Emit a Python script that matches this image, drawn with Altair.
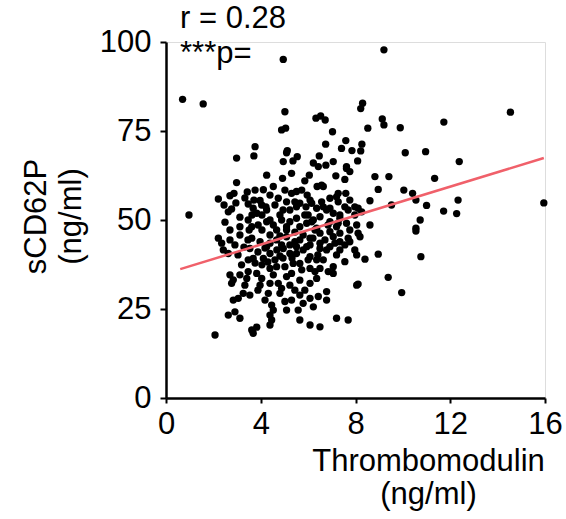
import altair as alt
import pandas as pd

# Thrombomodulin (ng/ml) values
tm = [0.70, 1.57, 4.95, 9.20, 0.97, 2.07, 14.54, 15.95, 12.38, 10.96, 11.34, 10.41, 10.55, 11.00, 11.72, 12.27,
      12.33, 10.73, 10.55, 10.55, 10.76, 8.30, 8.22, 9.13, 9.20, 8.52, 9.89, 11.73, 7.59, 7.41, 7.85, 8.22,
      8.27, 8.09, 7.62, 10.10, 5.02, 6.33, 6.53, 6.72, 4.88, 5.05, 7.03, 3.76, 5.12, 6.74, 3.71, 2.98,
      4.95, 5.36, 5.54, 4.25, 4.92, 5.30, 2.98, 3.43, 3.76, 4.11, 4.53, 2.21, 2.70, 2.87, 3.71, 3.47,
      3.97, 4.22, 4.74, 5.09, 5.30, 2.63, 2.77, 3.12, 3.47, 3.83, 4.25, 3.89, 3.12, 3.51, 4.39, 4.81,
      5.23, 4.67, 2.21, 2.70, 5.09, 5.51, 5.09, 6.47, 6.22, 6.43, 6.75, 7.06, 6.05, 5.86, 7.17, 5.51,
      5.73, 5.96, 6.38, 6.64, 7.27, 7.59, 3.68, 4.04, 5.65, 5.91, 6.15, 6.36, 6.64, 6.92, 7.27, 7.55,
      3.62, 4.25, 4.53, 4.88, 5.23, 5.09, 5.65, 5.94, 6.15, 6.50, 6.36, 6.92, 7.20, 7.34, 7.62, 3.62,
      3.97, 4.39, 4.67, 5.09, 5.44, 5.79, 6.08, 6.50, 7.06, 7.34, 4.25, 4.88, 5.94, 6.92, 8.82, 9.41,
      8.96, 10.04, 9.52, 8.61, 8.61, 7.62, 7.76, 7.55, 7.20, 7.76, 8.11, 8.26, 6.57, 6.92, 6.57, 6.08,
      5.44, 5.51, 6.78, 7.06, 7.34, 7.69, 7.97, 6.00, 6.22, 6.92, 7.27, 8.05, 6.29, 7.76, 8.11, 2.91,
      2.42, 2.63, 3.54, 3.68, 4.11, 4.39, 4.60, 4.95, 5.23, 5.51, 5.79, 6.08, 6.50, 6.78, 7.13, 7.20,
      7.55, 5.65, 6.00, 6.36, 3.19, 3.47, 3.41, 3.83, 4.04, 4.39, 4.67, 4.53, 5.02, 5.30, 5.09, 5.73,
      6.08, 6.50, 6.85, 7.06, 7.06, 2.70, 2.84, 2.77, 6.08, 6.36, 4.39, 4.74, 4.88, 4.81, 4.32, 2.84,
      3.05, 3.26, 3.54, 5.02, 5.30, 5.65, 5.79, 6.08, 6.43, 6.78, 6.78, 4.46, 4.53, 4.39, 5.09, 5.58,
      6.22, 2.91, 2.63, 3.12, 4.46, 4.39, 5.65, 6.08, 6.50, 7.20, 7.69, 3.62, 3.83, 3.68, 2.35, 3.47,
      8.96, 8.05, 8.40, 7.76, 7.69, 8.19, 9.38, 8.05, 8.11, 9.95, 6.64, 6.50, 6.08, 5.51, 5.37, 6.29,
      3.88, 4.18, 4.81, 4.05, 3.76, 4.30, 4.94, 4.68, 5.32, 3.97, 5.23, 5.65, 5.44, 5.86, 4.18, 3.88,
      3.33, 3.12, 3.04, 3.29, 3.33, 3.63, 4.05, 4.60, 4.39, 5.02, 4.94, 4.05, 4.39, 5.23, 5.65, 6.71,
      6.41, 6.84, 5.86, 4.81, 5.44, 6.20, 7.34, 7.97, 7.55, 7.34, 7.97, 3.46, 3.12, 2.70, 2.49, 2.95,
      2.45]

# sCD62P (ng/ml) values
sp = [83.9, 82.6, 95.1, 97.8, 51.4, 17.7, 80.3, 54.8, 66.4, 69.2, 61.7, 57.5, 55.6, 54.1, 52.5, 51.8,
      55.6, 50.0, 47.7, 46.9, 39.7, 82.8, 81.3, 78.4, 76.7, 75.8, 75.9, 77.5, 72.3, 70.1, 69.5, 69.4,
      71.3, 66.6, 65.0, 68.9, 80.4, 78.6, 79.2, 78.1, 75.3, 75.8, 74.8, 70.6, 69.5, 71.3, 68.0, 67.4,
      66.4, 66.6, 67.8, 62.6, 61.7, 63.1, 60.5, 57.9, 58.4, 58.5, 59.4, 55.9, 56.8, 57.5, 55.6, 54.5,
      55.5, 53.7, 56.1, 55.1, 57.5, 52.3, 53.1, 50.8, 50.0, 51.9, 52.8, 48.6, 48.1, 47.2, 50.0, 51.4,
      52.8, 47.2, 44.9, 44.4, 48.1, 50.5, 68.9, 68.0, 66.0, 65.0, 65.4, 66.4, 62.6, 61.0, 62.4, 58.0,
      58.4, 57.0, 59.4, 59.4, 57.5, 57.5, 53.3, 54.2, 54.7, 53.7, 54.7, 53.3, 53.7, 53.3, 55.1, 53.7,
      48.1, 49.5, 48.6, 50.0, 49.5, 47.2, 48.1, 49.1, 49.5, 50.9, 47.7, 49.5, 48.1, 50.5, 49.1, 44.9,
      43.9, 45.8, 44.4, 45.3, 43.9, 45.8, 44.9, 46.3, 45.3, 43.9, 42.5, 43.0, 42.5, 42.5, 62.2, 62.2,
      58.6, 58.4, 54.2, 55.4, 48.6, 64.5, 63.6, 61.4, 56.5, 55.6, 53.3, 52.3, 59.8, 56.1, 55.1, 55.6,
      55.1, 53.7, 52.8, 51.9, 51.4, 52.8, 53.7, 51.4, 50.0, 46.7, 49.1, 48.6, 47.2, 47.2, 46.3, 43.0,
      41.6, 40.6, 42.0, 39.2, 39.2, 40.6, 38.8, 42.0, 40.6, 42.5, 41.6, 43.0, 43.5, 41.6, 43.5, 40.2,
      38.3, 37.8, 38.8, 38.8, 37.4, 35.5, 33.6, 35.0, 33.6, 36.4, 36.9, 34.6, 36.9, 35.0, 34.1, 36.0,
      36.4, 36.4, 35.5, 35.0, 36.9, 34.6, 33.2, 32.2, 32.2, 33.6, 32.2, 32.2, 30.8, 29.4, 29.4, 27.5,
      28.0, 29.4, 28.9, 27.1, 27.5, 28.9, 26.6, 28.0, 28.5, 29.9, 27.5, 26.1, 24.7, 23.3, 24.7, 24.7,
      25.6, 24.2, 23.3, 22.4, 21.9, 20.5, 21.9, 20.5, 20.0, 22.4, 21.9, 19.1, 19.9, 18.2, 43.5, 38.8,
      40.4, 40.2, 39.0, 43.9, 44.9, 45.3, 33.9, 31.7, 32.0, 29.6, 38.8, 42.0, 39.7, 40.6, 37.8, 35.5,
      41.0, 42.1, 39.9, 37.4, 37.9, 38.2, 39.3, 41.6, 39.3, 31.7, 31.7, 33.1, 30.3, 30.3, 27.5, 30.3,
      31.7, 34.6, 40.2, 42.4, 56.2, 51.4, 51.4, 54.2, 57.0, 58.4, 52.8, 47.2, 43.5, 43.0, 44.4, 44.4,
      40.2, 48.6, 51.4, 45.5, 46.6, 44.9, 46.3, 51.4, 43.0, 41.6, 41.6, 44.4, 45.8, 47.2, 49.4, 54.8,
      54.2]

# fitted line end points
fit_x = [0.6, 15.95]
fit_y = [36.2, 67.4]

x_ticks = [0, 4, 8, 12, 16]
y_ticks = [0, 25, 50, 75, 100]

FONT = "Liberation Sans"

pts = pd.DataFrame({"tm": tm, "sp": sp})
fit = pd.DataFrame({"tm": fit_x, "sp": fit_y})
ann = pd.DataFrame({"label": ["r = 0.28", "***p="], "yy": [-14, 21]})

xscale = alt.Scale(domain=[0, 16], nice=False, zero=False)
yscale = alt.Scale(domain=[0, 100], nice=False, zero=False)

xaxis = alt.Axis(values=x_ticks, title=["Thrombomodulin", "(ng/ml)"], grid=False,
                 domainColor="black", domainWidth=2.5, tickColor="black", tickWidth=2, tickSize=5,
                 labelFont=FONT, labelFontSize=31, labelColor="black", labelPadding=6, labelFlush=False,
                 titleFont=FONT, titleFontSize=31, titleFontWeight="normal", titleColor="black",
                 titleX=262, titleY=72, titleAlign="center", titleAnchor="start",
                 titleBaseline="alphabetic", titleLineHeight=33)
yaxis = alt.Axis(values=y_ticks, title=["sCD62P", "(ng/ml)"], grid=False,
                 domainColor="black", domainWidth=2.5, tickColor="black", tickWidth=2, tickSize=6,
                 labelFont=FONT, labelFontSize=31, labelColor="black", labelPadding=9, labelFlush=False,
                 titleFont=FONT, titleFontSize=31, titleFontWeight="normal", titleColor="black",
                 titleX=-121, titleY=174, titleAngle=-90, titleAlign="center", titleAnchor="start",
                 titleBaseline="alphabetic", titleLineHeight=35)

points = alt.Chart(pts).mark_circle(size=54, color="black", opacity=1).encode(
    x=alt.X("tm:Q", scale=xscale, axis=xaxis),
    y=alt.Y("sp:Q", scale=yscale, axis=yaxis),
)

line = alt.Chart(fit).mark_line(color="#F0606A", strokeWidth=2.5).encode(
    x=alt.X("tm:Q", scale=xscale),
    y=alt.Y("sp:Q", scale=yscale),
)

text = alt.Chart(ann).mark_text(font=FONT, fontSize=31, color="black", align="left",
                                baseline="alphabetic").encode(
    x=alt.value(14),
    y=alt.Y("yy:Q", scale=None),
    text="label:N",
)

chart = alt.layer(points, line, text).properties(
    width=379, height=356,
    autosize=alt.AutoSizeParams(type="none"),
    padding={"left": 166, "top": 42, "right": 21, "bottom": 121},
).configure_view(stroke=None).configure(background="white")

chart.save("out.html", embed_options={"renderer": "svg", "actions": False})
